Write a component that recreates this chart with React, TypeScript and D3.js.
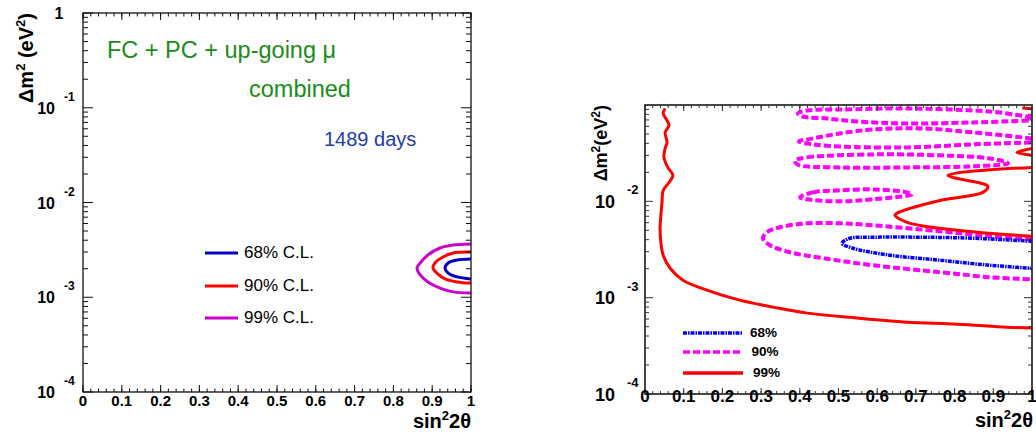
import React from 'react';
import * as d3 from 'd3';

type P = [number, number];

const FONT = "'Liberation Sans', Arial, Helvetica, sans-serif";

// ---------- axis data ----------
const xTicks = [0, 0.1, 0.2, 0.3, 0.4, 0.5, 0.6, 0.7, 0.8, 0.9, 1];
const xTickLabels = ['0', '0.1', '0.2', '0.3', '0.4', '0.5', '0.6', '0.7', '0.8', '0.9', '1'];
const leftDecades = [1e-4, 1e-3, 1e-2, 1e-1, 1];
const leftDecadeLabels: [string, string][] = [['10', '-4'], ['10', '-3'], ['10', '-2'], ['10', '-1'], ['1', '']];
const rightDecades = [1e-4, 1e-3, 1e-2];
const rightDecadeLabels: [string, string][] = [['10', '-4'], ['10', '-3'], ['10', '-2']];

// ---------- left panel: contours (sin^2 2θ, Δm^2) ----------
const left68: P[] = [
  [1.0, 0.00253], [0.964, 0.00247], [0.941, 0.0023], [0.933, 0.00204], [0.941, 0.0018], [0.964, 0.00164], [1.0, 0.00156],
];
const left90: P[] = [
  [1.0, 0.0030], [0.954, 0.00293], [0.928, 0.00266], [0.907, 0.0023], [0.902, 0.00204], [0.912, 0.0018], [0.933, 0.00156], [0.964, 0.00145], [1.0, 0.00141],
];
const left99: P[] = [
  [1.0, 0.00365], [0.954, 0.00356], [0.920, 0.00331], [0.889, 0.00279], [0.869, 0.0023], [0.861, 0.00204], [0.869, 0.00172], [0.889, 0.00145], [0.920, 0.00125], [0.954, 0.00114], [1.0, 0.00111],
];
const leftLegendLabels = ['68% C.L.', '90% C.L.', '99% C.L.'];
const leftColors = ['#0000c8', '#ff0000', '#cc00cc'];

// ---------- right panel: contours ----------
const right68: P[] = [
  [1.0, 0.00385], [0.848, 0.00414], [0.718, 0.00424], [0.589, 0.00424], [0.530, 0.00414], [0.509, 0.00367],
  [0.537, 0.00326], [0.633, 0.00276], [0.762, 0.00245], [0.891, 0.00217], [1.0, 0.00202],
];
const right90Open: P[][] = [
  [[1.0, 0.0742], [0.917, 0.0836], [0.848, 0.0877], [0.677, 0.092], [0.504, 0.0898], [0.419, 0.0877], [0.395, 0.0817],
   [0.408, 0.076], [0.470, 0.0725], [0.548, 0.0675], [0.677, 0.0643], [0.848, 0.0659], [1.0, 0.0691]],
  [[1.0, 0.045], [0.848, 0.0519], [0.718, 0.0571], [0.589, 0.0557], [0.504, 0.0507], [0.434, 0.045], [0.398, 0.0419],
   [0.434, 0.039], [0.504, 0.0371], [0.677, 0.0363], [0.848, 0.039], [1.0, 0.0409]],
  [[1.0, 0.00404], [0.891, 0.00434], [0.762, 0.00489], [0.589, 0.00564], [0.504, 0.00591], [0.419, 0.00591], [0.349, 0.00538],
   [0.315, 0.00477], [0.305, 0.00414], [0.323, 0.0035], [0.375, 0.00296], [0.460, 0.00257], [0.589, 0.00217],
   [0.762, 0.00184], [0.891, 0.00163], [1.0, 0.00155]],
];
const right90Closed: P[][] = [
  [[0.388, 0.0266], [0.419, 0.0286], [0.589, 0.0307], [0.762, 0.030], [0.891, 0.0279], [0.938, 0.0248],
   [0.848, 0.0231], [0.677, 0.0225], [0.504, 0.0225], [0.393, 0.0242]],
  [[0.401, 0.011], [0.434, 0.0124], [0.504, 0.013], [0.589, 0.0133], [0.677, 0.0124], [0.69, 0.0118],
   [0.589, 0.0105], [0.504, 0.010], [0.419, 0.0105]],
];
const right99: P[][] = [
  [[0.052, 0.092], [0.047, 0.0817], [0.057, 0.0691], [0.062, 0.0613], [0.052, 0.0519], [0.057, 0.0409], [0.052, 0.0354],
   [0.049, 0.0286], [0.059, 0.0225], [0.072, 0.0186], [0.062, 0.0157], [0.047, 0.013], [0.044, 0.00977], [0.041, 0.00716],
   [0.039, 0.00525], [0.041, 0.00376], [0.047, 0.00276], [0.065, 0.00202], [0.098, 0.00152], [0.160, 0.0012],
   [0.245, 0.000942], [0.331, 0.000798], [0.419, 0.000691], [0.548, 0.000614], [0.677, 0.000557], [0.806, 0.000531],
   [0.935, 0.000494], [1.0, 0.000483]],
  [[1.0, 0.0225], [0.783, 0.0186], [0.886, 0.0143], [0.873, 0.0124], [0.762, 0.0102], [0.651, 0.00752], [0.646, 0.00716],
   [0.677, 0.00606], [0.762, 0.00525], [0.891, 0.00466], [1.0, 0.00434]],
  [[1.0, 0.0354], [0.961, 0.0322], [1.0, 0.030]],
  [[0.975, 0.093], [1.0, 0.0915]],
];
const rightLegendLabels = ['68%', '90%', '99%'];

// ---------- geometry ----------
const L = { x0: 83, x1: 471, y0: 392, y1: 13 };
const R = { x0: 645, x1: 1032, y0: 394, y1: 105 };

const lxs = d3.scaleLinear().domain([0, 1]).range([L.x0, L.x1]);
const lys = d3.scaleLog().domain([1e-4, 1]).range([L.y0, L.y1]);
const rxs = d3.scaleLinear().domain([0, 1]).range([R.x0, R.x1]);
const rys = d3.scaleLog().domain([1e-4, 0.1]).range([R.y0, R.y1]);

function logMinor(lo: number, hi: number): number[] {
  const out: number[] = [];
  for (let e = lo; e < hi; e++) for (let k = 2; k <= 9; k++) out.push(k * Math.pow(10, e));
  return out;
}
function linMinor(step: number): number[] {
  const out: number[] = [];
  for (let v = 0; v <= 1.0001; v += step) out.push(v);
  return out;
}

function Frame(props: {
  xs: d3.ScaleLinear<number, number>; ys: d3.ScaleLogarithmic<number, number>;
  box: { x0: number; x1: number; y0: number; y1: number };
  yMajor: number[]; yMinor: number[]; xMinorStep: number;
  xMaj: number; xMin: number; yMaj: number; yMin: number; sw: number; color: string;
}) {
  const { xs, ys, box, yMajor, yMinor, xMinorStep, xMaj, xMin, yMaj, yMin, sw, color } = props;
  const segs: [number, number, number, number][] = [];
  xTicks.forEach(v => {
    const x = xs(v);
    segs.push([x, box.y0, x, box.y0 - xMaj]);
    segs.push([x, box.y1, x, box.y1 + xMaj]);
  });
  linMinor(xMinorStep).forEach(v => {
    const x = xs(v);
    segs.push([x, box.y0, x, box.y0 - xMin]);
    segs.push([x, box.y1, x, box.y1 + xMin]);
  });
  yMajor.forEach(v => {
    const y = ys(v);
    segs.push([box.x0, y, box.x0 + yMaj, y]);
    segs.push([box.x1, y, box.x1 - yMaj, y]);
  });
  yMinor.forEach(v => {
    const y = ys(v);
    segs.push([box.x0, y, box.x0 + yMin, y]);
    segs.push([box.x1, y, box.x1 - yMin, y]);
  });
  return (
    <g>
      <rect x={box.x0} y={box.y1} width={box.x1 - box.x0} height={box.y0 - box.y1} fill="none" stroke={color} strokeWidth={sw} />
      {segs.map((s, i) => (
        <line key={i} x1={s[0]} y1={s[1]} x2={s[2]} y2={s[3]} stroke={color} strokeWidth={1} />
      ))}
    </g>
  );
}

export default function App() {
  const lLine = d3.line<P>().x(d => lxs(d[0])).y(d => lys(d[1])).curve(d3.curveCatmullRom.alpha(0.5));
  const rLine = d3.line<P>().x(d => rxs(d[0])).y(d => rys(d[1])).curve(d3.curveCatmullRom.alpha(0.5));
  const rLineClosed = d3.line<P>().x(d => rxs(d[0])).y(d => rys(d[1])).curve(d3.curveCatmullRomClosed.alpha(0.5));

  const magDash = '7 3';
  const blueDash = '4 1 1.5 1';

  return (
    <svg width={1036} height={440} style={{ position: 'absolute', left: 0, top: 0, background: '#fff' }} fontFamily={FONT}>
      <defs>
        <clipPath id="clipL"><rect x={L.x0} y={L.y1} width={L.x1 - L.x0} height={L.y0 - L.y1} /></clipPath>
        <clipPath id="clipR"><rect x={R.x0} y={R.y1} width={R.x1 - R.x0} height={R.y0 - R.y1} /></clipPath>
      </defs>
      <rect x={0} y={0} width={1036} height={440} fill="#fff" />

      {/* ================= LEFT PANEL ================= */}
      <g clipPath="url(#clipL)" fill="none" strokeWidth={3}>
        <path d={lLine(left99) || ''} stroke={leftColors[2]} />
        <path d={lLine(left90) || ''} stroke={leftColors[1]} />
        <path d={lLine(left68) || ''} stroke={leftColors[0]} />
      </g>
      <Frame xs={lxs} ys={lys} box={L} yMajor={leftDecades} yMinor={logMinor(-4, 0)} xMinorStep={0.02}
        xMaj={7} xMin={3.5} yMaj={10} yMin={5} sw={1.3} color="#111" />

      {xTicks.map((v, i) => (
        <text key={'lx' + i} x={lxs(v)} y={406} textAnchor="middle" fontSize={15} fontWeight="bold">{xTickLabels[i]}</text>
      ))}
      {leftDecades.map((v, i) => {
        const y = lys(v);
        const [base, sup] = leftDecadeLabels[i];
        if (!sup) return <text key={'ly' + i} x={59} y={y + 6} textAnchor="middle" fontSize={16} fontWeight="bold">{base}</text>;
        return (
          <g key={'ly' + i}>
            <text x={55} y={y + 6} textAnchor="end" fontSize={16} fontWeight="bold">{base}</text>
            <text x={64} y={y - 7} fontSize={12} fontWeight="bold">{sup}</text>
          </g>
        );
      })}
      <text x={471} y={428} textAnchor="end" fontSize={20} fontWeight="bold">
        sin<tspan dy={-8} fontSize={13}>2</tspan><tspan dy={8}>2θ</tspan>
      </text>
      <text transform="translate(33,13) rotate(-90)" textAnchor="end" fontSize={20} fontWeight="bold">
        Δm<tspan dy={-8} fontSize={13}>2</tspan><tspan dy={8}> (eV</tspan><tspan dy={-8} fontSize={13}>2</tspan><tspan dy={8}>)</tspan>
      </text>

      <text x={107} y={58} fontSize={23.5} fill="#1a8c1a">FC + PC + up-going μ</text>
      <text x={249} y={97} fontSize={23.5} fill="#1a8c1a">combined</text>
      <text x={324} y={146} fontSize={20} fill="#1e3caa">1489 days</text>

      {leftLegendLabels.map((lab, i) => {
        const y = [253, 286, 318][i];
        return (
          <g key={'ll' + i}>
            <line x1={205} x2={238} y1={y} y2={y} stroke={leftColors[i]} strokeWidth={3} />
            <text x={244} y={y + 5} fontSize={17}>{lab}</text>
          </g>
        );
      })}

      {/* ================= RIGHT PANEL ================= */}
      <g clipPath="url(#clipR)" fill="none">
        {right90Open.map((c, i) => (
          <path key={'mo' + i} d={rLine(c) || ''} stroke="#ff00ff" strokeWidth={4} strokeDasharray={magDash} />
        ))}
        {right90Closed.map((c, i) => (
          <path key={'mc' + i} d={rLineClosed(c) || ''} stroke="#ff00ff" strokeWidth={4} strokeDasharray={magDash} />
        ))}
        <path d={rLine(right68) || ''} stroke="#0000ff" strokeWidth={3.5} strokeDasharray={blueDash} />
        {right99.map((c, i) => (
          <path key={'r' + i} d={rLine(c) || ''} stroke="#ff0000" strokeWidth={3} />
        ))}
      </g>
      <Frame xs={rxs} ys={rys} box={R} yMajor={rightDecades} yMinor={logMinor(-4, -1)} xMinorStep={0.02}
        xMaj={6} xMin={3} yMaj={8} yMin={4} sw={1.8} color="#333" />

      {xTicks.map((v, i) => (
        <text key={'rx' + i} x={rxs(v)} y={402} textAnchor="middle" fontSize={17} fontWeight="bold">{xTickLabels[i]}</text>
      ))}
      {rightDecades.map((v, i) => {
        const y = rys(v);
        const [base, sup] = rightDecadeLabels[i];
        return (
          <g key={'ry' + i}>
            <text x={615} y={y + 6.5} textAnchor="end" fontSize={18} fontWeight="bold">{base}</text>
            <text x={627} y={y - 7} fontSize={13} fontWeight="bold">{sup}</text>
          </g>
        );
      })}
      <text x={1033} y={427} textAnchor="end" fontSize={20} fontWeight="bold">
        sin<tspan dy={-8} fontSize={13}>2</tspan><tspan dy={8}>2θ</tspan>
      </text>
      <text transform="translate(607,105) rotate(-90)" textAnchor="end" fontSize={18} fontWeight="bold">
        Δm<tspan dy={-7} fontSize={12}>2</tspan><tspan dy={7}>(eV</tspan><tspan dy={-7} fontSize={12}>2</tspan><tspan dy={7}>)</tspan>
      </text>

      {rightLegendLabels.map((lab, i) => {
        const y = [333, 352, 373][i];
        const style = i === 0
          ? { stroke: '#0000ff', dash: blueDash }
          : i === 1 ? { stroke: '#ff00ff', dash: magDash } : { stroke: '#ff0000', dash: undefined };
        return (
          <g key={'rl' + i}>
            <line x1={683} x2={743} y1={y} y2={y} stroke={style.stroke} strokeWidth={3.5} strokeDasharray={style.dash} />
            <text x={750 + i * 1.5} y={y + 4} fontSize={13.5} fontWeight="bold">{lab}</text>
          </g>
        );
      })}
    </svg>
  );
}
